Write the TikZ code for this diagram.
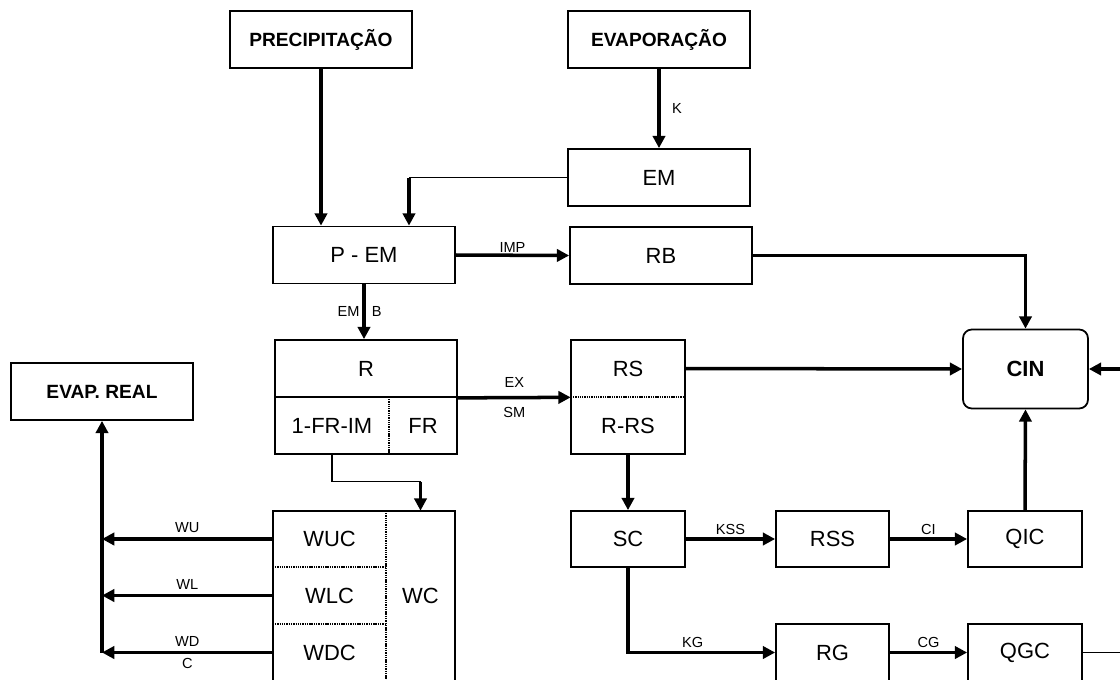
\documentclass[tikz,border=0pt]{standalone}
\usepackage{fontspec}
\setmainfont{Liberation Sans}
\usetikzlibrary{arrows.meta, positioning, calc}
\tikzset{
  tbox/.style={draw, line width=1pt, minimum width=3.64cm, minimum height=1.14cm,
               font=\fontsize{10.9}{12}\selectfont\bfseries, inner sep=0pt},
  mbox/.style={draw, line width=1pt, minimum width=3.64cm, minimum height=1.14cm,
               font=\fontsize{12.5}{14}\selectfont, inner sep=0pt},
  sbox/.style={mbox, minimum width=2.28cm},
  cell/.style={minimum height=1.14cm, font=\fontsize{12.5}{14}\selectfont, inner sep=0pt},
  frame/.style={line width=1pt},
  dotsep/.style={line width=1pt, dash pattern=on 0.8pt off 0.5pt},
  arr/.style={-{Triangle[length=7pt,width=7pt]}, line width=2pt},
  wire/.style={line width=0.6pt},
  lbl/.style={font=\fontsize{8.3}{9}\selectfont, inner sep=1.5pt},
}

\begin{document}
\begin{tikzpicture}[x=0.02cm, y=-0.02cm]
  \useasboundingbox (0,0) rectangle (1120,680);
  \clip (0,0) rectangle (1120,680);

  %% ── entradas ──
  \node[tbox] (prec) at (321,39.5) {PRECIPITAÇÃO};
  \node[tbox] (evap) at (659,39.5) {EVAPORAÇÃO};
  \node[mbox] (em) at (659,177.5) {EM};
  \node[mbox] (pem) at (364,255) {P - EM};
  \node[mbox] (rb) at (661,255.5) {RB};

  %% ── reservatório R ──
  \node[mbox] (rtop) at (366,368.5) {R};
  \node[cell, minimum width=2.28cm] (rim) at (332,425.5) {1-FR-IM};
  \node[cell, minimum width=1.36cm] (rfr) at (423,425.5) {FR};
  \draw[frame] (rim.north west) rectangle (rfr.south east);
  \draw[dotsep] (rim.north east) -- (rim.south east);

  %% ── RS / R-RS e CIN ──
  \node[cell, minimum width=2.28cm] (rs) at (628,368.5) {RS};
  \node[cell, minimum width=2.28cm] (rrs) at (628,425.5) {R-RS};
  \draw[frame] (rs.north west) rectangle (rrs.south east);
  \draw[dotsep] (rs.south west) -- (rs.south east);
  \node[mbox, rounded corners=5pt, minimum width=2.5cm, minimum height=1.58cm,
        font=\fontsize{12.5}{14}\selectfont\bfseries] (cin) at (1025.5,369) {CIN};

  \node[tbox] (evr) at (102,391.5) {EVAP. REAL};

  %% ── zona WC ──
  \node[cell, minimum width=2.26cm, minimum height=1.12cm] (wuc) at (329.5,539) {WUC};
  \node[cell, minimum width=2.26cm] (wlc) at (329.5,595.5) {WLC};
  \node[cell, minimum width=2.26cm] (wdc) at (329.5,652.5) {WDC};
  \node[cell, minimum width=1.38cm, minimum height=3.4cm] (wc) at (420.5,596) {WC};
  \draw[frame] (wuc.north west) rectangle (wc.south east);
  \draw[dotsep] (wc.north west) -- (wc.south west);
  \draw[dotsep] (wuc.south west) -- (wuc.south east);
  \draw[dotsep] (wlc.south west) -- (wlc.south east);

  %% ── escoamentos ──
  \node[sbox, minimum height=1.12cm] (sc) at (628,539) {SC};
  \node[sbox, minimum width=2.26cm, minimum height=1.12cm] (rss) at (832.5,539) {RSS};
  \node[sbox, minimum height=1.12cm] (qic) at (1025,539) {QIC};
  \node[sbox, minimum width=2.26cm] (rg) at (832.5,652.5) {RG};
  \node[sbox] (qgc) at (1025,652.5) {QGC};

  %% ── ligações ──
  \coordinate (pemin) at ($(pem.north)+(45,0)$);
  \coordinate (wcin) at ($(wc.north)+(0,-29)$);
  \coordinate (cinR) at (1125,369);
  \coordinate (qgcR) at (1125,652.5);

  \draw[arr] (prec.south) -- (prec.south |- pem.north);
  \draw[arr] (evap.south) -- (em.north) node[lbl, midway, right=5pt] {K};
  \draw[wire] (em.west) -- (em.west -| pemin);
  \draw[arr] (em.west -| pemin) -- (pemin);
  \draw[arr] (pem.east) -- (rb.west) node[lbl, midway, above, inner sep=0.5pt] {IMP};
  \draw[arr] (rb.east) -| (cin.north);
  \draw[arr] (pem.south) -- (pem.south |- rtop.north)
    node[lbl, midway, left] {EM} node[lbl, midway, right=2pt] {B};
  \draw[arr] (rtop.south east) -- (rs.south west)
    node[lbl, midway, above=3pt] {EX} node[lbl, midway, below=3pt] {SM};
  \draw[arr] (rs.east) -- (cin.west);
  \draw[arr] (cinR) -- (cin.east);
  \draw[arr] (rrs.south) -- (sc.north);
  \draw[arr] (sc.east) -- (rss.west) node[lbl, midway, above] {KSS};
  \draw[arr] (rss.east) -- (qic.west) node[lbl, midway, above] {CI};
  \draw[arr] (qic.north) -- (cin.south);
  \draw[arr] (sc.south) |- (rg.west) node[lbl, pos=0.72, above] {KG};
  \draw[arr] (rg.east) -- (qgc.west) node[lbl, midway, above] {CG};
  \draw[wire] (qgc.east) -- (qgcR);

  \draw[wire] (rim.south) |- (wcin);
  \draw[arr] (wcin) -- (wc.north);

  \draw[arr] (wuc.west) -- (wuc.west -| evr.south) node[lbl, midway, above=1pt] {WU};
  \draw[arr] (wlc.west) -- (wlc.west -| evr.south) node[lbl, midway, above=1pt] {WL};
  \draw[arr] (wdc.west) -- (wdc.west -| evr.south)
    node[lbl, midway, above=1pt] {WD} node[lbl, midway, below=1pt] {C};
  \draw[arr] (wdc.west -| evr.south) -- (evr.south);
\end{tikzpicture}
\end{document}
